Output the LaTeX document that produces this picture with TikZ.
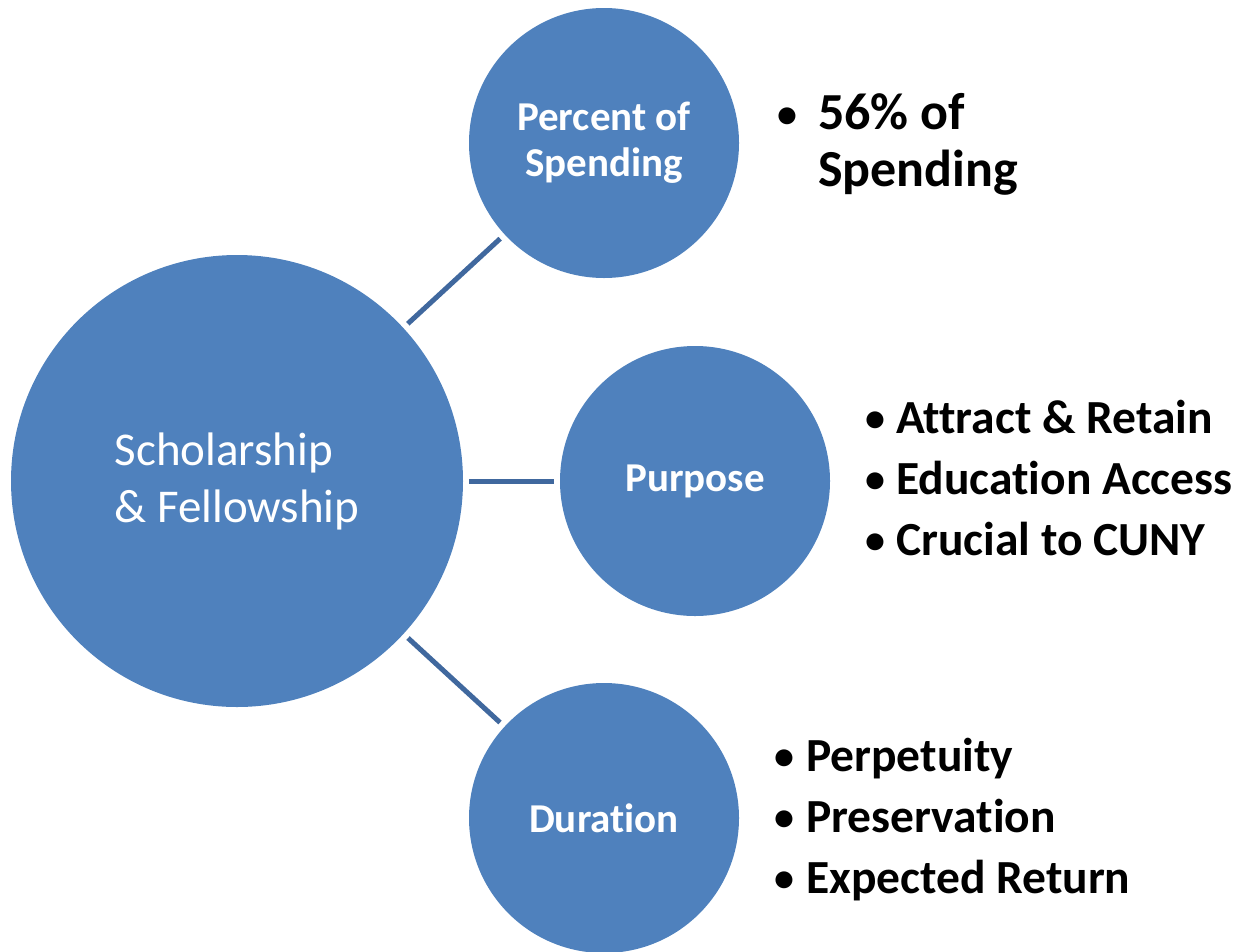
\documentclass[tikz,border=0pt]{standalone}
\usepackage{fontspec}
\setmainfont[Ligatures=NoCommon]{Carlito}
\definecolor{circfill}{RGB}{79,129,189}
\definecolor{linkcol}{RGB}{64,104,158}
\newcommand{\mybul}[1]{\makebox[#1][l]{\hspace*{2pt}\raisebox{2pt}{\fontsize{40}{40}\selectfont•}}}
\begin{document}
\begin{tikzpicture}[x=1pt,y=-1pt,
  bubble/.style={circle,fill=circfill,draw=none,inner sep=0pt,minimum size=270pt,text=white,
    font=\bfseries\fontsize{41}{46}\selectfont,align=center},
  bigbubble/.style={circle,fill=circfill,draw=none,inner sep=0pt,minimum size=452pt,text=white,
    font=\fontsize{47}{57}\selectfont,align=left},
  link/.style={draw=linkcol,line width=5pt,shorten <=6pt,shorten >=6pt},
  bullets/.style={anchor=base west,inner sep=0pt,text=black,font=\bfseries\fontsize{47.5}{61}\selectfont}]
\useasboundingbox (0,0) rectangle (1239,951);
\node[bigbubble] (main) at (237,481) {Scholarship\\\& Fellowship};
\node[bubble] (pct) at (604,143) {Percent of\\Spending};
\node[bubble] (purp) at (695,481) {Purpose};
\node[bubble] (dur) at (604,818) {Duration};
\draw[link] (main) -- (pct);
\draw[link] (main) -- (purp);
\draw[link] (main) -- (dur);
\node[bullets,font=\bfseries\fontsize{52}{57}\selectfont] (pctlist) at (775,129)
  {\begin{tabular}[t]{@{}l@{}}\mybul{43pt}56\% of\\\hspace*{43pt}Spending\end{tabular}};
\node[bullets] (purplist) at (863,433)
  {\begin{tabular}[t]{@{}l@{}}\mybul{33pt}Attract \& Retain\\\mybul{33pt}Education Access\\\mybul{33pt}Crucial to CUNY\end{tabular}};
\node[bullets] (durlist) at (772,771)
  {\begin{tabular}[t]{@{}l@{}}\mybul{34pt}Perpetuity\\\mybul{34pt}Preservation\\\mybul{34pt}Expected Return\end{tabular}};
\end{tikzpicture}
\end{document}
